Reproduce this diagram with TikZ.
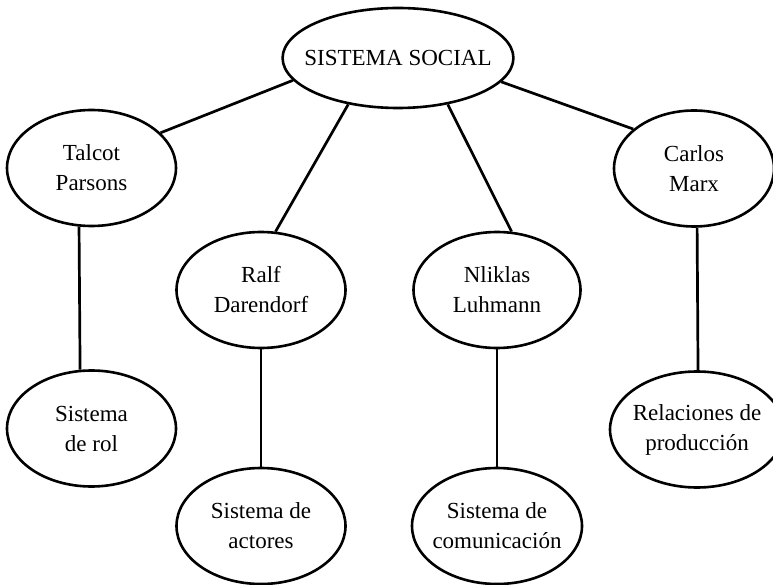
\documentclass[tikz,border=0pt]{standalone}
\usepackage{fontspec}
\setmainfont{Liberation Serif}
\usetikzlibrary{shapes.geometric}
\begin{document}
\begin{tikzpicture}[x=1pt,y=-1pt,
  oval/.style={draw, ellipse, line width=2.6pt, minimum width=169pt, minimum height=116pt,
    inner xsep=-12pt, inner ysep=0pt, align=center, font=\fontsize{23}{30}\selectfont},
  link/.style={line width=2.7pt}]
\useasboundingbox (0,0) rectangle (773,585);
\node[oval, minimum width=224pt, minimum height=100pt] (ss) at (398,58) {SISTEMA SOCIAL};
\node[oval] (talcot) at (91.5,168) {Talcot\\Parsons};
\node[oval] (ralf) at (261,290) {Ralf\\Darendorf};
\node[oval, minimum width=167pt] (nik) at (497,290) {Nliklas\\Luhmann};
\node[oval, minimum width=160pt] (carlos) at (694,168.5) {Carlos\\Marx};
\node[oval] (rol) at (91.5,428.5) {Sistema\\de rol};
\node[oval] (act) at (261,526) {Sistema de\\actores};
\node[oval, minimum width=170pt] (com) at (497,526) {Sistema de\\comunicación};
\node[oval, minimum width=174pt] (rel) at (697,429.5) {Relaciones de\\producción};
\draw[link] (ss.192.1) -- (talcot.27.7);
\draw[link] (ss.223.3) -- (ralf.76);
\draw[link] (ss.317.8) -- (nik.76.7);
\draw[link] (ss.347.7) -- (carlos.147.2);
\draw[link] (talcot.258.7) -- (rol.101.3);
\draw[link] (ralf.south) -- (act.north);
\draw[link] (nik.south) -- (com.north);
\draw[link] (carlos.273.9) -- (rel.89);
\end{tikzpicture}
\end{document}
